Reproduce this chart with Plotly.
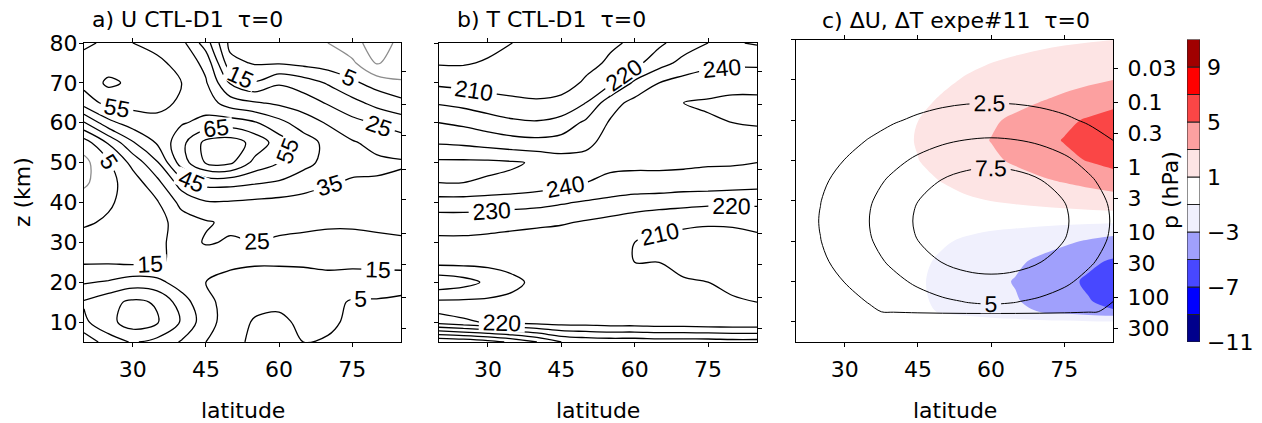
import math
import plotly.graph_objects as go

# ---------------- data ----------------
lat = [20, 25, 30, 35, 40, 45, 50, 55, 60, 65, 70, 75, 80, 85]
z_km = [5, 10, 15, 20, 25, 30, 35, 40, 45, 50, 55, 60, 65, 70, 75, 80]

# zonal wind U (m/s), rows follow z_km (bottom to top), columns follow lat
u_ctl = [
    [18, 30, 36, 32, 24, 15, 8, 3, 2, 5, 4, 2, 2, 2],
    [33, 42, 50, 46, 34, 19, 10, 4, 3, 7, 7, 3, 2, 2],
    [36, 42, 47, 44, 30, 17, 12, 8, 7, 9, 8, 4, 4, 3],
    [24, 26, 30, 28, 20, 15, 12, 11, 11, 12, 12, 11, 10, 9],
    [14, 14, 13, 14, 17, 18, 17, 16, 16, 16, 17, 17, 18, 19],
    [8, 9, 10, 12, 20, 26, 24, 25, 24, 23, 23, 23, 23, 24],
    [4, 6, 8, 11, 20, 24, 27, 27, 27, 27, 26, 26, 27, 27],
    [0, 4, 8, 14, 28, 34, 34, 33, 32, 31, 30, 30, 30, 30],
    [-7, 2, 10, 22, 40, 48, 48, 46, 44, 40, 36, 34, 34, 33],
    [-8, 4, 18, 34, 60, 76, 77, 62, 55, 48, 42, 38, 37, 36],
    [0, 16, 34, 46, 62, 78, 80, 72, 60, 50, 42, 36, 32, 30],
    [24, 42, 50, 53, 54, 58, 60, 56, 48, 40, 34, 28, 24, 20],
    [50, 58, 58, 57, 54, 50, 40, 36, 33, 30, 24, 18, 12, 8],
    [58, 67, 63, 58, 55, 46, 24, 16, 24, 20, 14, 7, 1, -4],
    [57, 60, 59, 57, 52, 42, 8, 4, 4, 2, 0, -3, -16, -10],
    [54, 56, 55, 52, 48, 30, 2, 1, 1, 0, -5, -12, -19, -13],
]

# temperature T (K), same grid
t_ctl = [
    [280, 278, 274, 268, 260, 250, 247, 246, 246, 245, 245, 245, 244, 244],
    [226, 222, 219, 217, 216, 215, 215, 214, 214, 213, 213, 212, 212, 212],
    [212, 212, 212, 212, 213, 214, 213, 213, 212, 212, 212, 211, 211, 210],
    [193, 196, 202, 208, 212, 212, 212, 212, 212, 212, 211, 210, 208, 207],
    [213, 213, 213, 213, 213, 212, 212, 211, 210, 210, 207, 206, 205, 205],
    [218, 218, 217, 216, 215, 214, 213, 212, 210, 208, 206, 206, 207, 208],
    [224, 224, 224, 223, 222, 221, 219, 217, 215, 213, 212, 211, 211, 212],
    [236, 236, 235, 234, 233, 231, 229, 227, 225, 224, 223, 222, 222, 222],
    [250, 250, 249, 248, 246, 243, 240, 238, 237, 237, 236, 236, 235, 234],
    [252, 252, 252, 251, 249, 245, 243, 242, 242, 242, 242, 241, 241, 240],
    [239, 238, 236, 234, 233, 234, 238, 243, 245, 246, 246, 246, 245, 245],
    [230, 228, 225, 222, 221, 224, 232, 241, 246, 248, 249, 249, 250, 251],
    [219, 217, 214, 212, 211, 212, 220, 236, 243, 247, 250, 251, 252, 252],
    [208, 207, 206, 206, 206, 207, 211, 218, 232, 240, 244, 246, 247, 247],
    [199, 199, 201, 203, 205, 206, 208, 211, 217, 226, 233, 237, 238, 238],
    [194, 195, 197, 200, 203, 205, 207, 209, 211, 218, 225, 230, 231, 229],
]

# perturbation fields of experiment #11, on a z grid refined near the tropopause
z_pert = [5, 10, 11.5, 12.5, 15, 20, 25, 30, 32.5, 35, 37.5, 40, 45, 50, 55, 60, 65, 70, 75, 80]

d_temp = [
    [0, 0, 0, 0, 0, 0, 0, 0, 0, 0, 0, 0, 0, 0],
    [0, 0, 0, -0.01, -0.05, -0.12, -0.21, -0.3, -0.38, -0.47, -0.57, -0.68, -0.8, -0.9],
    [0, 0, 0, -0.03, -0.15, -0.4, -0.7, -1.0, -1.28, -1.55, -1.9, -2.25, -2.65, -3.0],
    [0, 0, 0, -0.04, -0.24, -0.64, -1.12, -1.6, -2.04, -2.48, -3.04, -3.6, -4.24, -4.8],
    [0, 0, 0, -0.05, -0.28, -0.74, -1.29, -1.84, -2.35, -2.85, -3.5, -4.14, -4.88, -5.52],
    [0, 0, 0, -0.05, -0.3, -0.8, -1.4, -2.0, -2.55, -3.1, -3.8, -4.5, -5.3, -6.0],
    [0, 0, 0, -0.04, -0.26, -0.7, -1.22, -1.74, -2.22, -2.7, -3.31, -3.92, -4.61, -5.22],
    [0, 0, 0, -0.03, -0.18, -0.48, -0.84, -1.2, -1.53, -1.86, -2.28, -2.7, -3.18, -3.6],
    [0, 0, 0, -0.02, -0.12, -0.32, -0.56, -0.8, -1.02, -1.24, -1.52, -1.8, -2.12, -2.4],
    [0, 0, 0, -0.01, -0.03, -0.08, -0.14, -0.2, -0.26, -0.31, -0.38, -0.45, -0.53, -0.6],
    [0, 0, 0.01, 0.03, 0.08, 0.17, 0.26, 0.36, 0.46, 0.56, 0.66, 0.77, 0.87, 0.98],
    [0, 0, 0.02, 0.07, 0.17, 0.36, 0.56, 0.79, 1.01, 1.22, 1.45, 1.68, 1.91, 2.15],
    [0, 0, 0.03, 0.12, 0.31, 0.68, 1.05, 1.49, 1.89, 2.29, 2.73, 3.16, 3.6, 4.03],
    [0, 0, 0.04, 0.18, 0.44, 0.97, 1.5, 2.11, 2.68, 3.26, 3.87, 4.49, 5.1, 5.72],
    [0, 0, 0.05, 0.2, 0.5, 1.1, 1.7, 2.4, 3.05, 3.7, 4.4, 5.1, 5.8, 6.5],
    [0, 0, 0.05, 0.18, 0.45, 0.99, 1.53, 2.16, 2.75, 3.33, 3.96, 4.59, 5.22, 5.85],
    [0, 0, 0.03, 0.13, 0.33, 0.73, 1.12, 1.58, 2.01, 2.44, 2.9, 3.37, 3.83, 4.29],
    [0, 0, 0.02, 0.09, 0.23, 0.51, 0.78, 1.1, 1.4, 1.7, 2.02, 2.35, 2.67, 2.99],
    [0, 0, 0.02, 0.06, 0.15, 0.33, 0.51, 0.72, 0.92, 1.11, 1.32, 1.53, 1.74, 1.95],
    [0, 0, 0.01, 0.03, 0.08, 0.17, 0.26, 0.36, 0.46, 0.56, 0.66, 0.77, 0.87, 0.98],
]

d_wind = [
    [0, 0, 0, 0, 0, 0, 0, 0, 0, 0, 0, 0, 0, 0],
    [0, 0, 0, 0, 0, 0, 0, 0, 0, 0, 0, 0, 0, 0],
    [0, 0, 0, 0, 0, 0, 0, 0, 0, 0, 0, 0, 0, 0],
    [0.74, 1.12, 1.61, 2.19, 2.81, 3.41, 3.92, 4.26, 4.38, 4.26, 3.92, 3.41, 2.76, 2.10],
    [0.88, 1.33, 1.91, 2.59, 3.33, 4.05, 4.65, 5.06, 5.2, 5.06, 4.65, 4.05, 3.28, 2.50],
    [1.17, 1.77, 2.54, 3.46, 4.44, 5.4, 6.2, 6.74, 6.93, 6.74, 6.2, 5.4, 4.37, 3.33],
    [1.43, 2.17, 3.12, 4.24, 5.44, 6.61, 7.6, 8.26, 8.49, 8.26, 7.6, 6.61, 5.35, 4.08],
    [1.62, 2.46, 3.52, 4.79, 6.15, 7.48, 8.59, 9.34, 9.6, 9.34, 8.59, 7.48, 6.05, 4.61],
    [1.67, 2.53, 3.63, 4.94, 6.35, 7.71, 8.86, 9.63, 9.9, 9.63, 8.86, 7.71, 6.24, 4.75],
    [1.69, 2.56, 3.67, 4.99, 6.41, 7.79, 8.95, 9.73, 10.0, 9.73, 8.95, 7.79, 6.3, 4.8],
    [1.67, 2.53, 3.63, 4.94, 6.35, 7.71, 8.86, 9.63, 9.9, 9.63, 8.86, 7.71, 6.24, 4.75],
    [1.62, 2.46, 3.52, 4.79, 6.15, 7.48, 8.59, 9.34, 9.6, 9.34, 8.59, 7.48, 6.05, 4.61],
    [1.43, 2.17, 3.12, 4.24, 5.44, 6.61, 7.6, 8.26, 8.49, 8.26, 7.6, 6.61, 5.35, 4.08],
    [1.17, 1.77, 2.54, 3.46, 4.44, 5.4, 6.2, 6.74, 6.93, 6.74, 6.2, 5.4, 4.37, 3.33],
    [0.88, 1.33, 1.91, 2.59, 3.33, 4.05, 4.65, 5.06, 5.2, 5.06, 4.65, 4.05, 3.28, 2.50],
    [0.61, 0.92, 1.32, 1.8, 2.31, 2.8, 3.22, 3.5, 3.6, 3.5, 3.22, 2.8, 2.27, 1.73],
    [0.39, 0.59, 0.84, 1.15, 1.47, 1.79, 2.06, 2.24, 2.3, 2.24, 2.06, 1.79, 1.45, 1.1],
    [0.23, 0.35, 0.5, 0.67, 0.87, 1.05, 1.21, 1.31, 1.35, 1.31, 1.21, 1.05, 0.85, 0.65],
    [0.12, 0.19, 0.27, 0.36, 0.47, 0.57, 0.65, 0.71, 0.73, 0.71, 0.65, 0.57, 0.46, 0.35],
    [0.06, 0.09, 0.14, 0.18, 0.24, 0.29, 0.33, 0.36, 0.37, 0.36, 0.33, 0.29, 0.23, 0.18],
]

lat_ticks = [30, 45, 60, 75]
z_ticks = [10, 20, 30, 40, 50, 60, 70, 80]
p_ticks = [0.03, 0.1, 0.3, 1, 3, 10, 30, 100, 300]
p_tick_text = ["0.03", "0.1", "0.3", "1", "3", "10", "30", "100", "300"]

# shading bands for delta T
band_edges = [-11, -9, -7, -5, -3, -1, 1, 3, 5, 7, 9, 11]
band_colors = ["#00008c", "#0000ff", "#4848ff", "#a0a0fc", "#f0f0fd", "#ffffff",
               "#fde4e4", "#fca0a0", "#fa4646", "#ff0000", "#a00000"]
cb_ticks = [9, 5, 1, -3, -7, -11]
cb_tick_text = ["9", "5", "1", "\u22123", "\u22127", "\u221211"]

# ---------------- layout helpers ----------------
W, H = 1262, 423
FONT = "DejaVu Sans"
LABEL_FONT = "Liberation Sans"
LABEL_SIZE = 23


def fx(px):
    return px / W


def fy(py):
    return 1 - py / H


# log-pressure height: z = 7 km * ln(1000 hPa / p)
SCALE_H = 7.0
p_range = [math.log10(1000 * math.exp(-5 / SCALE_H)), math.log10(1000 * math.exp(-80 / SCALE_H))]

fig = go.Figure()


def isolines(x, y, z, start, end, size, color, width, xa, ya):
    return go.Contour(
        x=x, y=y, z=z, xaxis=xa, yaxis=ya, autocontour=False,
        contours=dict(start=start, end=end, size=size, coloring="none", showlabels=True,
                      labelfont=dict(family=LABEL_FONT, size=LABEL_SIZE, color=color)),
        line=dict(color=color, width=width, smoothing=1.0), showscale=False, hoverinfo="skip")


# panel a: U, positive (black) and negative (grey) isotachs
fig.add_trace(isolines(lat, z_km, u_ctl, 5, 75, 10, "black", 1.3, "x", "y"))
fig.add_trace(isolines(lat, z_km, u_ctl, -25, -5, 10, "#8c8c8c", 1.3, "x", "y"))

# panel b: T isotherms
fig.add_trace(isolines(lat, z_km, t_ctl, 200, 280, 10, "black", 1.3, "x2", "y2"))

# panel c: shaded delta T, contoured delta U
n_lev = len(band_edges)
fill_scale = [[0.0, band_colors[0]]]
for k, col in enumerate(band_colors):
    fill_scale.append([(k + 1) / n_lev, col])
fill_scale.append([1.0, band_colors[-1]])

fig.add_trace(go.Contour(
    x=lat, y=z_pert, z=d_temp, xaxis="x3", yaxis="y3", autocontour=False,
    contours=dict(start=band_edges[0], end=band_edges[-1], size=2, coloring="fill", showlines=False),
    colorscale=fill_scale, line=dict(width=0, smoothing=1.0), showscale=False, hoverinfo="skip"))
fig.add_trace(isolines(lat, z_pert, d_wind, 2.5, 7.5, 2.5, "black", 1.0, "x3", "y3"))

# pressure axes carry no data of their own
for xa, ya in [("x", "y4"), ("x2", "y5"), ("x3", "y6")]:
    fig.add_trace(go.Scatter(x=[None], y=[None], xaxis=xa, yaxis=ya, showlegend=False, hoverinfo="skip"))

# colour key as stacked segments on its own axis
fig.add_trace(go.Bar(
    x=[0] * (n_lev - 1), y=[b - a for a, b in zip(band_edges[:-1], band_edges[1:])],
    base=band_edges[:-1], width=1, xaxis="x4", yaxis="y7",
    marker=dict(color=band_colors, line=dict(color="#202020", width=1)),
    showlegend=False, hoverinfo="skip"))

tickfont = dict(family=FONT, size=22, color="black")

panels = {
    "a": dict(x=[84, 401], y=[43, 342]),
    "b": dict(x=[439, 757], y=[43, 342]),
    "c": dict(x=[796, 1113], y=[39.5, 342]),
}


def lat_axis(dom, anchor):
    return dict(domain=[fx(dom[0]), fx(dom[1])], anchor=anchor, range=[20, 85],
                tickvals=lat_ticks, ticks="outside", ticklen=4, tickwidth=1, tickcolor="black",
                showline=True, linecolor="black", linewidth=1, mirror="ticks",
                showgrid=False, zeroline=False, tickfont=tickfont, ticklabelstandoff=4)


def z_axis(dom, anchor, labels):
    return dict(domain=[fy(dom[1]), fy(dom[0])], anchor=anchor, range=[5, 80],
                tickvals=z_ticks, ticks="outside", ticklen=4, tickwidth=1, tickcolor="black",
                showline=True, linecolor="black", linewidth=1, mirror=True,
                showgrid=False, zeroline=False, showticklabels=labels, tickfont=tickfont,
                ticklabelstandoff=-3)


def p_axis(over, anchor, labels):
    return dict(overlaying=over, anchor=anchor, side="right", type="log", range=p_range,
                tickvals=p_ticks, ticktext=p_tick_text, ticks="outside", ticklen=4, tickwidth=1,
                tickcolor="black", showline=False, showgrid=False, zeroline=False,
                showticklabels=labels, tickfont=tickfont, ticklabelstandoff=5)


fig.update_layout(
    template="none",
    width=W, height=H, margin=dict(l=0, r=0, t=0, b=0),
    paper_bgcolor="white", plot_bgcolor="white", showlegend=False,
    font=dict(family=FONT, size=22, color="black"),
    xaxis=lat_axis(panels["a"]["x"], "y"),
    yaxis=z_axis(panels["a"]["y"], "x", True),
    xaxis2=lat_axis(panels["b"]["x"], "y2"),
    yaxis2=z_axis(panels["b"]["y"], "x2", False),
    xaxis3=lat_axis(panels["c"]["x"], "y3"),
    yaxis3=z_axis(panels["c"]["y"], "x3", False),
    yaxis4=p_axis("y", "x", False),
    yaxis5=p_axis("y2", "x2", False),
    yaxis6=p_axis("y3", "x3", True),
    xaxis4=dict(domain=[fx(1187), fx(1200)], anchor="y7", range=[-0.5, 0.5], visible=False),
    yaxis7=dict(domain=[fy(342), fy(39.5)], anchor="x4", side="right", range=[band_edges[0], band_edges[-1]],
                tickvals=cb_ticks, ticktext=cb_tick_text, ticks="", showline=False, showgrid=False,
                zeroline=False, tickfont=tickfont, ticklabelstandoff=6),
)

titles = [
    ("a) U CTL-D1\u00a0\u00a0\u03c4=0", 90, 20),
    ("b) T CTL-D1\u00a0\u00a0\u03c4=0", 455, 20),
    ("c) \u0394U, \u0394T expe#11\u00a0\u00a0\u03c4=0", 820, 21),
]
for text, px, py in titles:
    fig.add_annotation(text=text, x=fx(px), y=fy(py), xref="paper", yref="paper",
                       xanchor="left", yanchor="middle", showarrow=False,
                       font=dict(family=FONT, size=22, color="black"))

for name in ["a", "b", "c"]:
    cx = sum(panels[name]["x"]) / 2
    fig.add_annotation(text="latitude", x=fx(cx), y=fy(410), xref="paper", yref="paper",
                       xanchor="center", yanchor="middle", showarrow=False,
                       font=dict(family=FONT, size=22, color="black"))

fig.add_annotation(text="z (km)", x=fx(22), y=fy(192), xref="paper", yref="paper", textangle=-90,
                   xanchor="center", yanchor="middle", showarrow=False,
                   font=dict(family=FONT, size=22, color="black"))
fig.add_annotation(text="p (hPa)", x=fx(1170), y=fy(190), xref="paper", yref="paper", textangle=-90,
                   xanchor="center", yanchor="middle", showarrow=False,
                   font=dict(family=FONT, size=22, color="black"))

fig.write_html("out.html")
